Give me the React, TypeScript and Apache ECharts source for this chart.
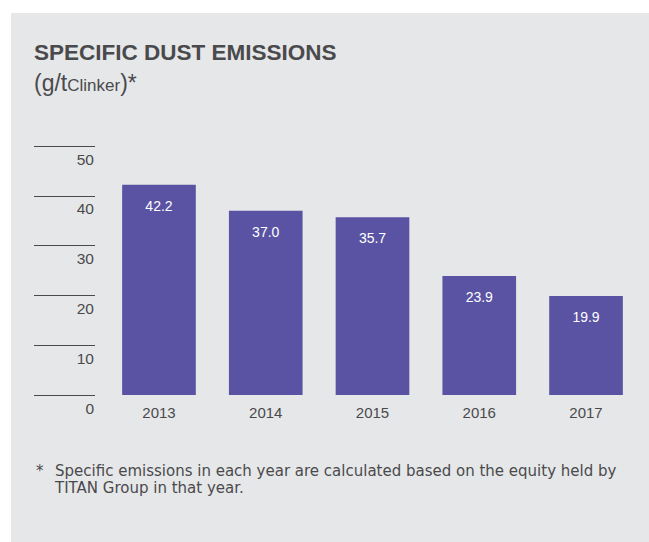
import React, { useEffect, useRef } from "react";
import * as echarts from "echarts";

const categories = ["2013", "2014", "2015", "2016", "2017"];
const dustValues = [42.2, 37.0, 35.7, 23.9, 19.9];
const yTicks = { min: 0, max: 50, interval: 10 };
const titleText = "SPECIFIC DUST EMISSIONS";
const footLine1 = "Specific emissions in each year are calculated based on the equity held by";
const footLine2 = "TITAN Group in that year.";

const FONT = "'Liberation Sans', Arial, sans-serif";
const BODY = "'DejaVu Sans', sans-serif";
const TXT = "#4a4a4c";

export default function App() {
  const ref = useRef<HTMLDivElement>(null);
  useEffect(() => {
    if (!ref.current) return;
    const chart = echarts.init(ref.current, undefined, { renderer: "svg" });
    chart.setOption({
      animation: false,
      backgroundColor: "#ffffff",
      textStyle: { fontFamily: FONT },
      graphic: [
        { type: "rect", z: -10, shape: { x: 11, y: 13, width: 638, height: 529 }, style: { fill: "#e6e7e9" } },
        { type: "text", x: 34, y: 52.5, style: { text: titleText, font: `bold 22.5px ${FONT}`, fill: TXT, verticalAlign: "middle" } },
        {
          type: "text", x: 34, y: 66,
          style: {
            text: "{a|(g/t}{b|Clinker}{a|)*}",
            verticalAlign: "top",
            fill: TXT,
            rich: {
              a: { fontSize: 23, lineHeight: 28, verticalAlign: "bottom", fontFamily: FONT, fill: TXT },
              b: { fontSize: 17, lineHeight: 17, verticalAlign: "bottom", fontFamily: FONT, fill: TXT },
            },
          },
        },
        { type: "text", x: 36, y: 471, style: { text: "*", font: `15px ${BODY}`, fill: TXT, verticalAlign: "middle" } },
        { type: "text", x: 55, y: 470.5, style: { text: footLine1, font: `15px ${BODY}`, fill: TXT, verticalAlign: "middle" } },
        { type: "text", x: 55, y: 488, style: { text: footLine2, font: `15px ${BODY}`, fill: TXT, verticalAlign: "middle" } },
      ],
      grid: [
        { left: 34, width: 61, top: 146, bottom: 147 },
        { left: 105.6, right: 9.6, top: 146, bottom: 147 },
      ],
      xAxis: [
        { type: "value", gridIndex: 0, show: false, min: 0, max: 1 },
        {
          type: "category", gridIndex: 1, data: categories,
          axisLine: { show: false }, axisTick: { show: false },
          axisLabel: { color: TXT, fontSize: 15, margin: 10, fontFamily: FONT },
        },
      ],
      yAxis: [
        {
          type: "value", gridIndex: 0, position: "right", min: yTicks.min, max: yTicks.max, interval: yTicks.interval,
          axisLine: { show: false }, axisTick: { show: false },
          splitLine: { show: true, lineStyle: { color: "#4a4a4a", width: 1 } },
          axisLabel: { inside: true, align: "right", verticalAlign: "top", padding: [5, 0, 0, 0], margin: 1, color: TXT, fontSize: 15.5, fontFamily: FONT },
        },
        {
          type: "value", gridIndex: 1, min: yTicks.min, max: yTicks.max, interval: yTicks.interval, show: false,
          splitLine: { show: false },
        },
      ],
      series: [
        {
          type: "bar", xAxisIndex: 1, yAxisIndex: 1, data: dustValues, barWidth: "69%",
          itemStyle: { color: "#5a53a3" },
          label: {
            show: true, position: "insideTop", distance: 14, color: "#ffffff", fontSize: 14, fontFamily: FONT,
            formatter: (p: any) => Number(p.value).toFixed(1),
          },
        },
      ],
    });
    return () => chart.dispose();
  }, []);
  return <div ref={ref} style={{ position: "fixed", left: 0, top: 0, width: 649, height: 542 }} />;
}
